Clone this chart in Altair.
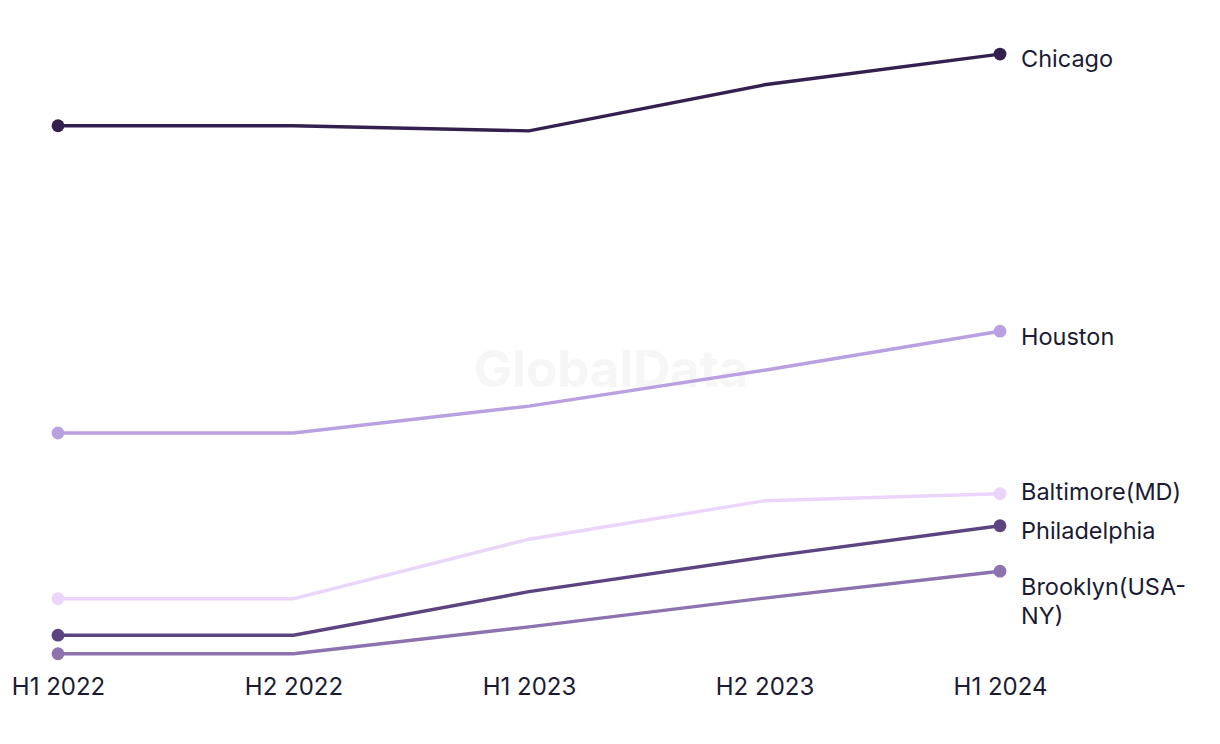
import altair as alt
import pandas as pd

periods = ["H1 2022", "H2 2022", "H1 2023", "H2 2023", "H1 2024"]
cities = ["Chicago", "Houston", "Baltimore(MD)", "Philadelphia", "Brooklyn(USA-NY)"]
chicago = [84.1, 84.1, 83.3, 90.5, 95.3]
houston = [36.1, 36.1, 40.3, 45.9, 52.0]
baltimore = [10.2, 10.2, 19.5, 25.5, 26.6]
philadelphia = [4.5, 4.5, 11.3, 16.7, 21.6]
brooklyn = [1.6, 1.6, 5.8, 10.3, 14.5]
colors = ["#34204f", "#b9a0e0", "#ecd5fb", "#5b447f", "#8c73b0"]

series = dict(zip(cities, [chicago, houston, baltimore, philadelphia, brooklyn]))
rows = []
for c, vals in series.items():
    for p, v in zip(periods, vals):
        rows.append({"city": c, "period": p, "value": v})
df = pd.DataFrame(rows)

FONT = "Inter"
TXT = "#1b1a33"
FS = 23.5

x = alt.X("period:O", sort=periods, scale=alt.Scale(type="point", padding=0),
          axis=alt.Axis(title=None, labelAngle=0, domain=False, ticks=False, grid=False,
                        labelFontSize=24, labelFont=FONT, labelColor=TXT, labelPadding=11))
y = alt.Y("value:Q", scale=alt.Scale(domain=[0, 100], nice=False, zero=False), axis=None)
color = alt.Color("city:N", scale=alt.Scale(domain=cities, range=colors), legend=None)

base = alt.Chart(df)

watermark = alt.Chart(pd.DataFrame({"t": ["GlobalData"]})).mark_text(
    fontSize=51, fontWeight="bold", font=FONT, color="#f6f6f6", align="center", baseline="middle"
).encode(x=alt.value(553), y=alt.value(348), text="t:N")

lines = base.mark_line(strokeWidth=3.4).encode(x=x, y=y, color=color, detail="city:N")
points = base.transform_filter(
    alt.FieldOneOfPredicate(field="period", oneOf=[periods[0], periods[-1]])
).mark_circle(size=165, opacity=1).encode(x=x, y=y, color=color)

label_dy = {"Chicago": 6, "Houston": 7, "Baltimore(MD)": -1, "Philadelphia": 6}
labels = []
last = df[df["period"] == periods[-1]]
for c, dy in label_dy.items():
    labels.append(
        alt.Chart(last[last["city"] == c]).mark_text(
            align="left", baseline="middle", dx=21, dy=dy, fontSize=FS, font=FONT, color=TXT
        ).encode(x=x, y=y, text="city:N")
    )
labels.append(
    alt.Chart(last[last["city"] == "Brooklyn(USA-NY)"]).mark_text(
        align="left", baseline="top", dx=21, dy=5, fontSize=FS, font=FONT, color=TXT, lineHeight=29
    ).encode(x=x, y=y, text=alt.value(["Brooklyn(USA-", "NY)"]))
)

chart = alt.layer(watermark, lines, points, *labels).properties(
    width=942, height=640,
    padding={"left": 58, "top": 24, "right": 220, "bottom": 80},
    autosize=alt.AutoSizeParams(type="none"),
    background="white",
).configure_view(stroke=None)

chart.save("out.html", embed_options={"renderer": "svg", "actions": False})
